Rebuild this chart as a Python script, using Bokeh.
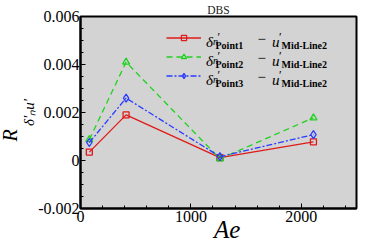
import math
from bokeh.plotting import figure
from bokeh.models import (Label, Legend, LegendItem, FixedTicker, Range1d, Title)
from bokeh.embed import file_html
from bokeh.resources import INLINE

# ---- data ----
ae = [80, 413, 1263, 2110]
point1 = [0.00035, 0.0019, 0.00012, 0.00078]
point2 = [0.00087, 0.0041, 0.00007, 0.00178]
point3 = [0.00075, 0.0026, 0.00016, 0.00108]
series = [point1, point2, point3]
series_sub = ["Point1", "Point2", "Point3"]
x_major = [0, 1000, 2000]
x_minor = [200, 400, 600, 800, 1200, 1400, 1600, 1800, 2200, 2400]
y_major = [-0.002, 0, 0.002, 0.004, 0.006]
y_minor = [-0.0015, -0.001, -0.0005, 0.0005, 0.001, 0.0015, 0.0025, 0.003,
           0.0035, 0.0045, 0.005, 0.0055]
title_text = "DBS"
x_title = "Ae"
y_title_main = "R"
y_title_sub = "\u03b4\u2032\u2099u\u2032"

# ---- styles ----
colors = ["#e01a1a", "#1ed21e", "#2a3cff"]
dashes = ["solid", "6 4", "6 2 2 2"]
markers = ["square", "triangle", "diamond"]
msizes = [6, 7, 8]
SERIF = "Liberation Serif"

p = figure(frame_width=276, frame_height=192, output_backend="svg",
           toolbar_location=None,
           x_range=Range1d(0, 2500), y_range=Range1d(-0.002, 0.006),
           min_border_left=73, min_border_right=9, min_border_top=10,
           min_border_bottom=32)
p.background_fill_color = "#d3d3d3"
p.border_fill_color = "white"
p.outline_line_color = "black"
p.outline_line_width = 2
p.grid.visible = False

p.title.text = title_text
p.title.align = "center"
p.title.text_font = SERIF
p.title.text_font_size = "11.5px"
p.title.text_font_style = "normal"
p.title.text_color = "#222222"
p.title.standoff = 2

for ax in (p.xaxis[0], p.yaxis[0]):
    ax.axis_line_color = "black"
    ax.axis_line_width = 2
    ax.major_tick_in = 5
    ax.major_tick_out = 0
    ax.minor_tick_in = 3
    ax.minor_tick_out = 0
    ax.major_tick_line_color = "black"
    ax.minor_tick_line_color = "black"
    ax.major_label_text_font = SERIF
    ax.major_label_text_font_size = "16px"
    ax.major_label_text_color = "black"
    ax.axis_label_text_font = SERIF
    ax.axis_label_text_font_style = "italic"
    ax.axis_label_text_color = "black"

p.xaxis.ticker = FixedTicker(ticks=x_major, minor_ticks=x_minor)
p.yaxis.ticker = FixedTicker(ticks=y_major, minor_ticks=y_minor)
p.yaxis.major_label_overrides = {v: ("0" if v == 0 else f"{v:.3f}") for v in y_major}
p.xaxis.major_label_standoff = 2
p.yaxis.major_label_standoff = 1

p.xaxis.axis_label = "\u2002\u2009" + x_title
p.xaxis.axis_label_text_font_size = "25px"
p.xaxis.axis_label_standoff = -9

# y title: subscript as the axis label, the big R as a side title further out
p.yaxis.axis_label = y_title_sub
p.yaxis.axis_label_text_font_size = "15px"
p.yaxis.axis_label_standoff = -2
p.add_layout(Title(text=y_title_main, text_font=SERIF, text_font_size="20px",
                   text_font_style="italic", text_color="black", align="left",
                   vertical_align="middle", offset=67, standoff=-6), "left")

items = []
for ys, c, d, m, s in zip(series, colors, dashes, markers, msizes):
    r1 = p.line(ae, ys, line_color=c, line_width=1.3, line_dash=d)
    r2 = p.scatter(ae, ys, marker=m, size=s, line_color=c, fill_color=None,
                   line_width=1.3)
    items.append(LegendItem(label=" ", renderers=[r1, r2]))

legend = Legend(items=items, location=(86, 126), background_fill_alpha=0,
                border_line_alpha=0, glyph_width=35, glyph_height=13,
                label_text_font_size="1px", spacing=6, padding=0, margin=0,
                label_width=0, label_standoff=0)
p.add_layout(legend)

FL, FB = 81, 210  # frame left / bottom in page pixels


def lab(text, cx, cy, size, style="normal", align="left", baseline="alphabetic"):
    p.add_layout(Label(x=cx - FL, y=FB - cy, x_units="screen", y_units="screen",
                       text=text, text_font=SERIF, text_font_size=f"{size}px",
                       text_font_style=style, text_align=align,
                       text_baseline=baseline, text_color="black"))


# legend texts
for i, sub in enumerate(series_sub):
    rc = 39.5 + 19 * i
    lab("\u03b4", 206.5, rc + 4, 15, style="italic")
    lab("n", 213.5, rc + 3.5, 10, style="italic")
    lab("\u2032", 218, rc - 1, 12)
    lab(sub, 216, rc + 7.5, 10, style="bold")
    lab("\u2212", 258, rc + 0.5, 15)
    lab("u", 272.5, rc + 4, 15, style="italic")
    lab("\u2032", 279.5, rc - 1, 12)
    lab("Mid-Line2", 282, rc + 7.5, 10, style="bold")

open("out.html", "w").write(file_html(p, INLINE))
